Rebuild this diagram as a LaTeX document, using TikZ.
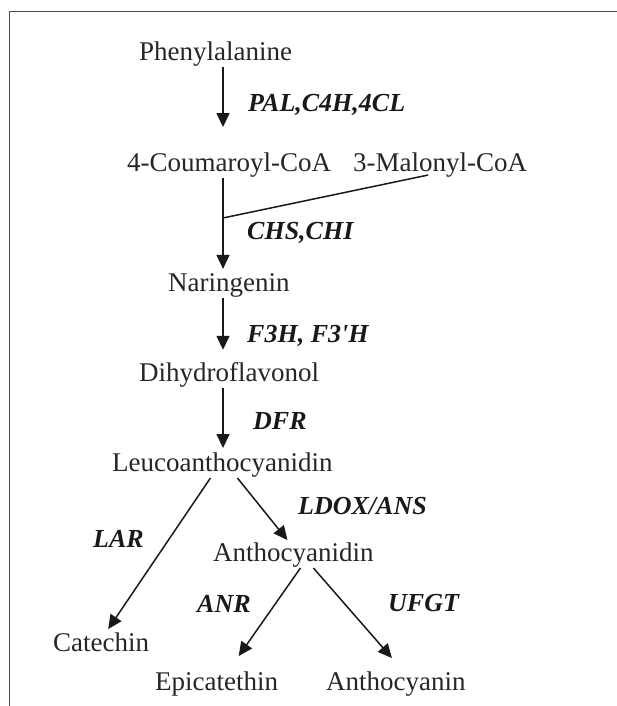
\documentclass[tikz,border=0pt]{standalone}
\usepackage{fontspec}
\setmainfont{Liberation Serif}
\usepackage{tikz}
\usetikzlibrary{arrows.meta, calc, positioning}
\tikzstyle{compound} = [anchor=base west, inner sep=0pt, font=\fontsize{27}{32}\selectfont, text=black!85]
\tikzstyle{enzyme} = [anchor=base west, inner sep=0pt, font=\fontsize{26}{31}\selectfont\bfseries\itshape, text=black!90]
\tikzstyle{arrow} = [line width=1.5pt, -{Triangle[length=14pt,width=13pt]}, draw=black!90]
\tikzstyle{link} = [line width=1.5pt, draw=black!90]

\begin{document}
\begin{tikzpicture}[x=1pt, y=1pt]
	\useasboundingbox (0,0) rectangle (617,706);
	% frame
	\draw[black!70, line width=1pt] (617,694) -- (9,694) -- (9,0);

	% compounds
	\node (Phe) [compound] at (139,645) {Phenylalanine};
	\node (Coum) [compound] at (127,534) {4-Coumaroyl-CoA};
	\node (Mal) [compound] at (353,534) {3-Malonyl-CoA};
	\node (Nar) [compound] at (168,414) {Naringenin};
	\node (Dih) [compound] at (139,324) {Dihydroflavonol};
	\node (Leu) [compound] at (112,234) {Leucoanthocyanidin};
	\node (Ant) [compound] at (213,144) {Anthocyanidin};
	\node (Cat) [compound] at (53,54) {Catechin};
	\node (Epi) [compound] at (155,16) {Epicatethin};
	\node (Acn) [compound] at (326,16) {Anthocyanin};

	% enzymes
	\node (PAL) [enzyme] at (248,594) {PAL,C4H,4CL};
	\node (CHS) [enzyme] at (247,466) {CHS,CHI};
	\node (F3H) [enzyme] at (247,363) {F3H, F3\textquotesingle H};
	\node (DFR) [enzyme] at (253,276) {DFR};
	\node (LDOX) [enzyme] at (298,191) {LDOX/ANS};
	\node (LAR) [enzyme] at (93,158) {LAR};
	\node (ANR) [enzyme] at (197,93) {ANR};
	\node (UFGT) [enzyme] at (388,94) {UFGT};

	% main stem
	\coordinate (stem) at (223,0);
	\coordinate (join) at (223,488);
	\draw[arrow, shorten >=26pt] (Phe.south -| stem) -- (Coum.north -| stem);
	\draw[arrow, shorten >=5pt] (Coum.south -| stem) -- (Nar.north -| stem);
	\draw[link] ([xshift=-12pt,yshift=3pt]Mal.south) -- (join);
	\draw[arrow, shorten >=13pt] (Nar.south -| stem) -- (Dih.north -| stem);
	\draw[arrow, shorten >=5pt] (Dih.south -| stem) -- (Leu.north -| stem);

	% branches
	\draw[arrow] ([xshift=-12pt]Leu.south) -- ([xshift=7pt,yshift=4pt]Cat.north);
	\draw[arrow] ([xshift=15pt]Leu.south) -- ([xshift=-6pt,yshift=3pt]Ant.north);
	\draw[arrow] ([xshift=7pt]Ant.south) -- ([xshift=22pt,yshift=15pt]Epi.north);
	\draw[arrow] ([xshift=20pt]Ant.south) -- ([xshift=-4pt,yshift=13pt]Acn.north);
\end{tikzpicture}
\end{document}
